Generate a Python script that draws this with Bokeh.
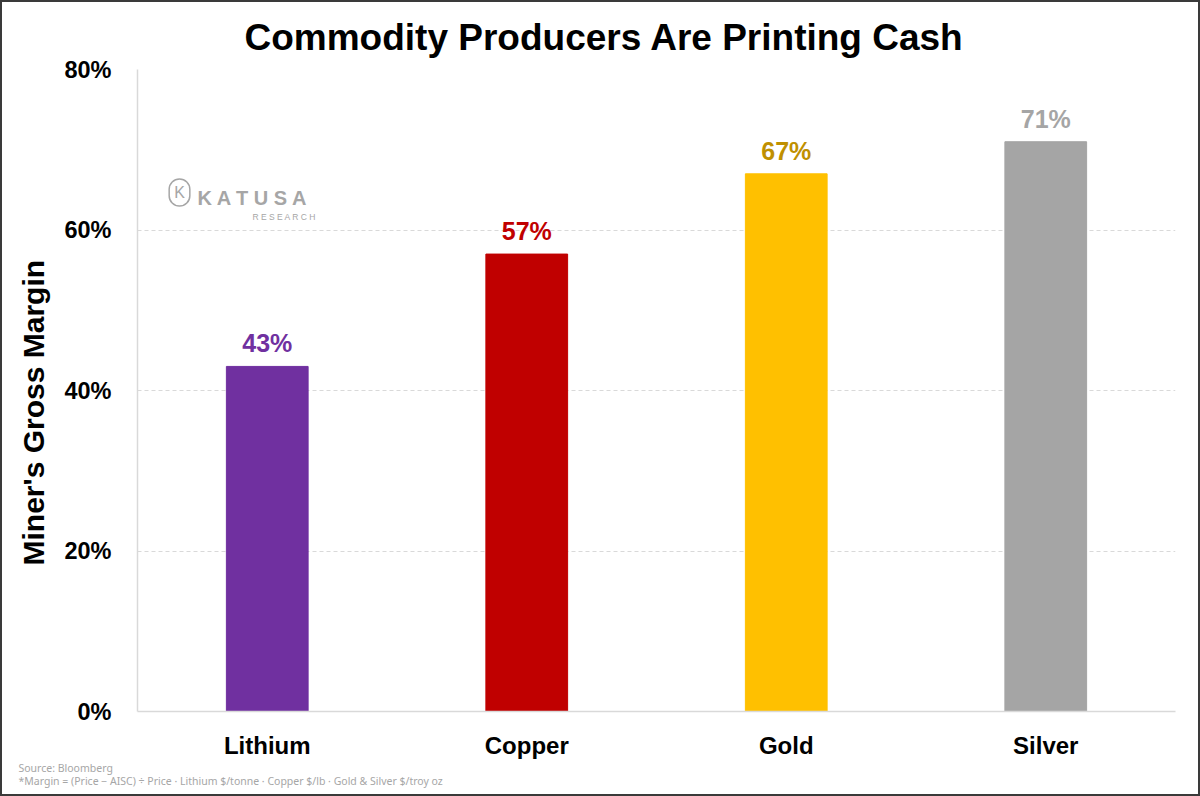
from bokeh.plotting import figure
from bokeh.models import ColumnDataSource, Label, Title, FixedTicker, NumeralTickFormatter, Range1d
from bokeh.core.properties import value
from bokeh.embed import file_html
from bokeh.resources import INLINE

categories = ["Lithium", "Copper", "Gold", "Silver"]
margins = [0.43, 0.57, 0.67, 0.71]
bar_colors = ["#7030A0", "#C00000", "#FFC000", "#A5A5A5"]
label_colors = ["#7030A0", "#C00000", "#BF9000", "#A5A5A5"]
labels = ["43%", "57%", "67%", "71%"]
y_ticks = [0, 0.2, 0.4, 0.6, 0.8]

FONT = "Liberation Sans"

src = ColumnDataSource(dict(cat=categories, val=margins, color=bar_colors,
                            lcolor=label_colors, lab=labels))

p = figure(x_range=categories, y_range=Range1d(0, 0.8), width=1200, height=796,
           output_backend="svg", toolbar_location=None,
           min_border_left=129, min_border_right=27, min_border_top=67, min_border_bottom=87)
p.outline_line_color = None
p.background_fill_color = "white"
p.border_fill_color = "white"
p.styles = {"border": "2px solid #3a3a3a"}

p.title.text = "Commodity Producers Are Printing Cash"
p.title.align = "left"
p.title.offset = 107
p.title.standoff = 24
p.title.text_font = FONT
p.title.text_font_size = "37px"
p.title.text_font_style = "bold"
p.title.text_color = "black"

p.vbar(x="cat", top="val", width=0.315, color="color", source=src)
p.text(x="cat", y="val", text="lab", text_color="lcolor", source=src,
       text_align="center", text_baseline="bottom", y_offset=-9,
       text_font=value(FONT), text_font_size="25px", text_font_style="bold")

p.xgrid.grid_line_color = None
p.ygrid.grid_line_color = "#D9D9D9"
p.ygrid.grid_line_dash = "4 3"
p.ygrid.grid_line_width = 1

p.yaxis.ticker = FixedTicker(ticks=y_ticks)
p.yaxis.formatter = NumeralTickFormatter(format="0%")
p.yaxis.major_label_text_font = FONT
p.yaxis.major_label_text_font_size = "23.5px"
p.yaxis.major_label_text_font_style = "bold"
p.yaxis.major_label_text_color = "black"
p.yaxis.major_label_standoff = 20

for ax in (p.xaxis, p.yaxis):
    ax.axis_line_color = "#D9D9D9"
    ax.axis_line_width = 1.5
    ax.major_tick_line_color = None
    ax.minor_tick_line_color = None

p.xaxis.major_label_text_font = FONT
p.xaxis.major_label_text_font_size = "24px"
p.xaxis.major_label_text_font_style = "bold"
p.xaxis.major_label_text_color = "black"
p.xaxis.major_label_standoff = 14

# y axis title
p.add_layout(Title(text="Miner's Gross Margin", align="left", offset=146, standoff=24,
                   text_font=FONT, text_font_size="30px", text_font_style="bold",
                   text_color="black"), "left")

# logo
p.add_layout(Label(x=42, y=519, x_units="screen", y_units="screen", text="K",
                   text_font=FONT, text_font_size="16px", text_color="#A6A6A6",
                   text_align="center", text_baseline="middle",
                   border_line_color="#A6A6A6", border_line_width=1.5,
                   padding=5, border_radius=12))
p.add_layout(Label(x=60, y=514, x_units="screen", y_units="screen", text="K A T U S A",
                   text_font=FONT, text_font_size="20px", text_color="#A6A6A6",
                   text_font_style="bold", text_baseline="middle"))
p.add_layout(Label(x=115, y=495, x_units="screen", y_units="screen", text="R E S E A R C H",
                   text_font=FONT, text_font_size="8.5px", text_color="#A6A6A6",
                   text_baseline="middle"))

# footer
p.add_layout(Title(text="Source: Bloomberg", align="left", offset=-119, standoff=-5,
                   text_font="Noto Sans", text_font_size="10.5px", text_font_style="normal",
                   text_color="#A6A6A6"), "below")
p.add_layout(Title(text="*Margin = (Price \u2212 AISC) \u00f7 Price \u00b7 Lithium $/tonne \u00b7 Copper $/lb \u00b7 Gold & Silver $/troy oz",
                   align="left", offset=-119, standoff=-2,
                   text_font="Noto Sans", text_font_size="10.5px", text_font_style="normal",
                   text_color="#A6A6A6"), "below")

open("out.html", "w").write(file_html(p, INLINE))
